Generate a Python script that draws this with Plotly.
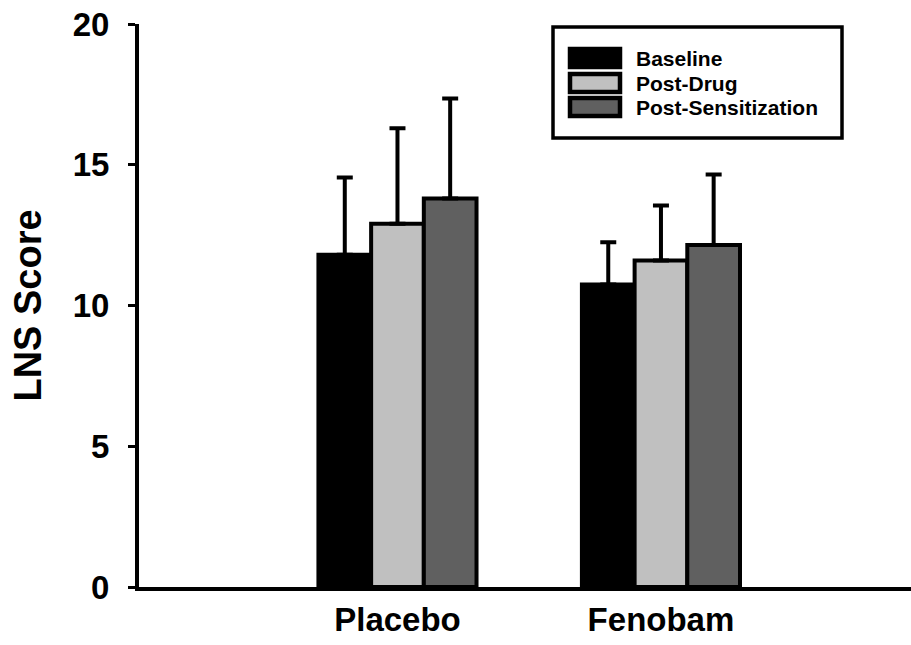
import plotly.graph_objects as go

# ---- data ----
groups = ["Placebo", "Fenobam"]
series_names = ["Baseline", "Post-Drug", "Post-Sensitization"]
baseline = [11.8, 10.75]
post_drug = [12.9, 11.6]
post_sens = [13.8, 12.15]
baseline_err = [2.75, 1.5]
post_drug_err = [3.4, 1.95]
post_sens_err = [3.55, 2.5]
y_ticks = [0, 5, 10, 15, 20]

colors = ["#000000", "#c0c0c0", "#606060"]
FONT = "Liberation Sans, Arial, sans-serif"

values = [baseline, post_drug, post_sens]
errors = [baseline_err, post_drug_err, post_sens_err]

fig = go.Figure()
for name, vals, errs, col in zip(series_names, values, errors, colors):
    fig.add_trace(go.Bar(
        x=groups, y=vals, name=name,
        marker=dict(color=col, line=dict(color="black", width=4)),
        error_y=dict(type="data", array=errs, arrayminus=[0] * len(errs),
                     symmetric=False, color="black", thickness=4, width=8),
        showlegend=False,
    ))

# ---- layout geometry (pixels) ----
W, H = 911, 645
L, R, T, B = 139, 0, 24, 58
pw, ph = W - L - R, H - T - B

def px_x(x):
    return (x - L) / pw

def px_y(y):
    return (H - B - y) / ph

# manual legend (swatches + labels), matching reference layout
shapes = [dict(type="rect", xref="paper", yref="paper",
               x0=px_x(553), x1=px_x(842), y0=px_y(138), y1=px_y(27),
               line=dict(color="black", width=3.5), fillcolor="white", layer="above")]
annotations = []
item_y = [58, 83, 107]
for name, col, yy in zip(series_names, colors, item_y):
    shapes.append(dict(type="rect", xref="paper", yref="paper",
                       x0=px_x(570), x1=px_x(620), y0=px_y(yy + 9), y1=px_y(yy - 9),
                       line=dict(color="black", width=4.5), fillcolor=col, layer="above"))
    annotations.append(dict(xref="paper", yref="paper", x=px_x(634), y=px_y(yy),
                            text=name, showarrow=False, xanchor="left", yanchor="middle",
                            font=dict(family=FONT, size=21, color="black", weight="bold")))

fig.update_layout(
    width=W, height=H,
    margin=dict(l=L, r=R, t=T, b=B, autoexpand=False),
    paper_bgcolor="white", plot_bgcolor="white",
    barmode="group", bargap=0.4, bargroupgap=0,
    font=dict(family=FONT, color="black"),
    shapes=shapes, annotations=annotations,
    showlegend=False,
)
fig.update_xaxes(
    range=[-0.981, 1.949], showline=True, linewidth=4, linecolor="black",
    showgrid=False, zeroline=False, ticks="",
    tickfont=dict(family=FONT, size=33, color="black", weight="bold"),
    ticklabelstandoff=0,
)
fig.update_yaxes(
    range=[0, 20], tickvals=y_ticks, showline=True, linewidth=4, linecolor="black",
    showgrid=False, zeroline=False, ticks="outside", ticklen=7, tickwidth=3,
    tickcolor="black",
    tickfont=dict(family=FONT, size=33, color="black", weight="bold"),
    ticklabelstandoff=12,
    title=dict(text="LNS Score", standoff=20,
               font=dict(family=FONT, size=38, color="black", weight="bold")),
)

fig.write_html("out.html", config={"displayModeBar": False},
               post_script="document.body.style.margin='0';")
